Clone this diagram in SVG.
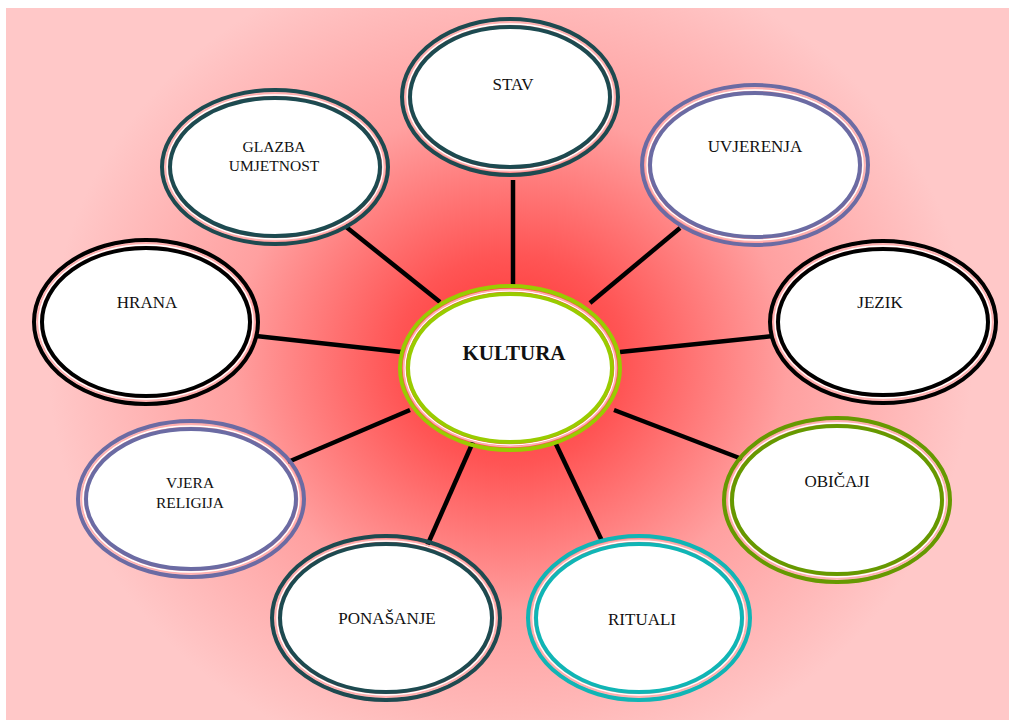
<svg xmlns="http://www.w3.org/2000/svg" width="1009" height="720" viewBox="0 0 1009 720">
<defs>
<radialGradient id="bg" gradientUnits="userSpaceOnUse" cx="510" cy="360" r="420" gradientTransform="translate(510 360) scale(1.1 1) translate(-510 -360)">
<stop offset="0" stop-color="#ff2e2e"/>
<stop offset="0.25" stop-color="#ff5555"/>
<stop offset="0.6" stop-color="#ffa0a0"/>
<stop offset="1" stop-color="#ffc8c8"/>
</radialGradient>
<style>
.o{fill:none;stroke-width:4}
.p{fill:none;stroke:#ffb0b0;stroke-width:1.6}
.w{fill:none;stroke:#ffffff;stroke-width:1.4}
.i{fill:#ffffff;stroke-width:4}
.t{font-family:"Liberation Serif","Times New Roman",serif;font-size:17px;fill:#111;text-anchor:middle}
.t2{font-family:"Liberation Serif","Times New Roman",serif;font-size:15.5px;fill:#111;text-anchor:middle}
.conn line{stroke:#000;stroke-width:4.5}
</style>
</defs>
<rect x="0" y="0" width="1009" height="720" fill="#ffffff"/>
<rect x="6" y="8" width="1003" height="712" fill="url(#bg)"/>
<g class="conn" id="connectors">
<line x1="513" y1="180" x2="513" y2="287"/>
<line x1="680" y1="228" x2="590" y2="303"/>
<line x1="773" y1="336" x2="620" y2="352"/>
<line x1="742" y1="459" x2="614" y2="410"/>
<line x1="602" y1="541" x2="555" y2="442"/>
<line x1="427" y1="546" x2="473" y2="442"/>
<line x1="288" y1="462" x2="410" y2="410"/>
<line x1="256" y1="336" x2="401" y2="352"/>
<line x1="345" y1="226" x2="440" y2="302"/>
</g>
<g id="n-kultura" transform="translate(510 368)">
<ellipse class="o" stroke="#99cc00" rx="110" ry="82"/>
<ellipse class="p" rx="106.5" ry="78.5"/>
<ellipse class="w" rx="105" ry="77"/>
<ellipse class="i" stroke="#99cc00" rx="102" ry="74"/>
<text x="4" y="-8" class="t" style="font-weight:bold;font-size:21px">KULTURA</text>
</g>
<g id="n-stav" transform="translate(510 97)">
<ellipse class="o" stroke="#1d4a50" rx="108" ry="78"/>
<ellipse class="p" rx="104.5" ry="74.5"/>
<ellipse class="w" rx="103" ry="73"/>
<ellipse class="i" stroke="#1d4a50" rx="100" ry="70"/>
<text x="3" y="-7" class="t">STAV</text>
</g>
<g id="n-uvjerenja" transform="translate(755 165)">
<ellipse class="o" stroke="#6b6ba3" rx="113" ry="80"/>
<ellipse class="p" rx="109.5" ry="76.5"/>
<ellipse class="w" rx="108" ry="75"/>
<ellipse class="i" stroke="#6b6ba3" rx="105" ry="72"/>
<text x="0" y="-13" class="t">UVJERENJA</text>
</g>
<g id="n-glazba" transform="translate(275 167)">
<ellipse class="o" stroke="#1d4a50" rx="113" ry="77"/>
<ellipse class="p" rx="109.5" ry="73.5"/>
<ellipse class="w" rx="108" ry="72"/>
<ellipse class="i" stroke="#1d4a50" rx="105" ry="69"/>
<text x="-1" y="-15" class="t2">GLAZBA</text>
<text x="-1" y="4" class="t2">UMJETNOST</text>
</g>
<g id="n-hrana" transform="translate(146 322)">
<ellipse class="o" stroke="#000000" rx="112" ry="82"/>
<ellipse class="p" rx="108.5" ry="78.5"/>
<ellipse class="w" rx="107" ry="77"/>
<ellipse class="i" stroke="#000000" rx="104" ry="74"/>
<text x="1" y="-14" class="t">HRANA</text>
</g>
<g id="n-jezik" transform="translate(883 322)">
<ellipse class="o" stroke="#000000" rx="113" ry="81"/>
<ellipse class="p" rx="109.5" ry="77.5"/>
<ellipse class="w" rx="108" ry="76"/>
<ellipse class="i" stroke="#000000" rx="105" ry="73"/>
<text x="-3" y="-14" class="t">JEZIK</text>
</g>
<g id="n-vjera" transform="translate(191 499)">
<ellipse class="o" stroke="#6b6ba3" rx="113" ry="78"/>
<ellipse class="p" rx="109.5" ry="74.5"/>
<ellipse class="w" rx="108" ry="73"/>
<ellipse class="i" stroke="#6b6ba3" rx="105" ry="70"/>
<text x="-1" y="-11" class="t2">VJERA</text>
<text x="-1" y="9" class="t2">RELIGIJA</text>
</g>
<g id="n-obicaji" transform="translate(837 500)">
<ellipse class="o" stroke="#669900" rx="113" ry="82"/>
<ellipse class="p" rx="109.5" ry="78.5"/>
<ellipse class="w" rx="108" ry="77"/>
<ellipse class="i" stroke="#669900" rx="105" ry="74"/>
<text x="0" y="-13" class="t">OBIČAJI</text>
</g>
<g id="n-ponasanje" transform="translate(386 618)">
<ellipse class="o" stroke="#1d4a50" rx="114" ry="82"/>
<ellipse class="p" rx="110.5" ry="78.5"/>
<ellipse class="w" rx="109" ry="77"/>
<ellipse class="i" stroke="#1d4a50" rx="106" ry="74"/>
<text x="1" y="6" class="t">PONAŠANJE</text>
</g>
<g id="n-rituali" transform="translate(639 618)">
<ellipse class="o" stroke="#10b5b5" rx="111" ry="82"/>
<ellipse class="p" rx="107.5" ry="78.5"/>
<ellipse class="w" rx="106" ry="77"/>
<ellipse class="i" stroke="#10b5b5" rx="103" ry="74"/>
<text x="3" y="7" class="t">RITUALI</text>
</g>
</svg>
